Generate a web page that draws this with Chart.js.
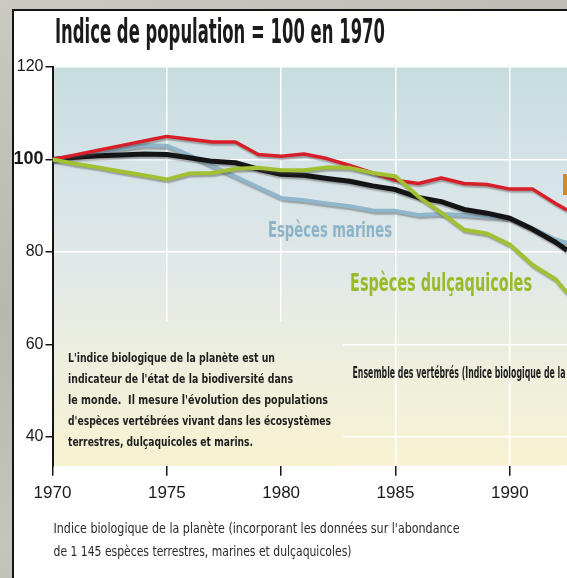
<!DOCTYPE html>
<html>
<head>
<meta charset="utf-8">
<script src="https://cdn.jsdelivr.net/npm/chart.js@4.4.1/dist/chart.umd.min.js"></script>
<style>
  html, body { margin: 0; padding: 0; }
  body {
    width: 567px; height: 578px; overflow: hidden; position: relative;
    background: linear-gradient(160deg, #cbcac2 0%, #b9b8af 40%, #c6c5bc 70%, #aeada4 100%);
  }
  #panel {
    position: absolute; left: 12px; top: 9px; width: 600px; height: 600px;
    background: #fff; border-left: 2.5px solid #151515; border-top: 2px solid #151515;
  }
  #chart-area { position: absolute; left: 0; top: 0; }
</style>
</head>
<body>
<div id="panel"></div>
<canvas id="chart-area" width="567" height="578"></canvas>
<script>
var years = [1970, 1971, 1972, 1973, 1974, 1975, 1976, 1977, 1978, 1979, 1980, 1981,
             1982, 1983, 1984, 1985, 1986, 1987, 1988, 1989, 1990, 1991, 1992, 1992.5];
// Espèces terrestres (rouge)
var terrestres = [100, 101, 102, 103, 104, 105, 104.4, 103.8, 103.8, 101.1, 100.7, 101.2,
                  100.2, 98.7, 97.1, 95.5, 94.8, 96, 94.8, 94.6, 93.6, 93.6, 90.5, 89.1];
// Ensemble des vertébrés (noir)
var ensemble = [100, 100.5, 100.8, 101, 101.2, 101.1, 100.4, 99.6, 99.3, 97.9, 96.8, 96.6,
                95.9, 95.3, 94.3, 93.5, 91.8, 90.9, 89.2, 88.4, 87.3, 84.9, 82.1, 80.4];
// Espèces marines (bleu)
var marines = [100, 100.8, 101.6, 102.4, 103.1, 103, 100.9, 98.6, 96.3, 94, 91.7, 91.2,
               90.5, 89.9, 89, 88.9, 88, 88.2, 88, 87.6, 87.3, 85.1, 82.7, 82];
// Espèces dulçaquicoles (vert)
var dulcaquicoles = [100, 99.1, 98.3, 97.4, 96.6, 95.7, 97, 97.1, 98, 98.2, 97.7, 97.7,
                     98.3, 98.2, 97.1, 96.4, 92, 88.5, 84.8, 84, 81.6, 77.2, 74.1, 71.2];
var xTicks = [1970, 1975, 1980, 1985, 1990];
var yTicks = [40, 60, 80, 100, 120];

var COND = "'Liberation Sans Narrow', 'DejaVu Sans Condensed', 'Liberation Sans', sans-serif";
var SANS = "'Liberation Sans', Arial, sans-serif";

function points(vals) {
    return vals.map(function (v, i) { return { x: years[i], y: v }; });
}

// draw text squeezed/stretched to a given width (the original uses a condensed face)
function fitText(ctx, text, x, y, width, font, color, measureUpTo) {
    ctx.save();
    ctx.font = font;
    ctx.fillStyle = color;
    ctx.textAlign = 'left';
    ctx.textBaseline = 'alphabetic';
    var w = ctx.measureText(measureUpTo || text).width;
    ctx.translate(x, y);
    ctx.scale(width / w, 1);
    ctx.fillText(text, 0, 0);
    ctx.restore();
}

var decor = {
    id: 'decor',
    beforeDraw: function (chart) {
        var ctx = chart.ctx, a = chart.chartArea;
        var g = ctx.createLinearGradient(0, a.top, 0, a.bottom);
        g.addColorStop(0, '#c6dddd');
        g.addColorStop(0.25, '#d5e3e7');
        g.addColorStop(0.5, '#e1e8e8');
        g.addColorStop(0.75, '#eeefdd');
        g.addColorStop(1, '#f7f2d2');
        chart.$bg = g;
        ctx.save();
        ctx.fillStyle = g;
        ctx.fillRect(a.left, a.top, a.right - a.left, a.bottom - a.top);
        ctx.restore();
    },
    beforeDatasetsDraw: function (chart) {
        var ctx = chart.ctx, a = chart.chartArea;
        // explanation box hides the grid
        ctx.save();
        ctx.fillStyle = chart.$bg;
        ctx.fillRect(a.left + 1.5, 322, 343 - a.left - 1.5, a.bottom - 322);
        ctx.restore();
        var f = 'bold 13px ' + COND, c = '#1e1e1e';
        fitText(ctx, "L'indice biologique de la planète est un", 68, 362, 207, f, c);
        fitText(ctx, "indicateur de l'état de la biodiversité dans", 68, 383, 225, f, c);
        fitText(ctx, "le monde.  Il mesure l'évolution des populations", 68, 404, 260, f, c);
        fitText(ctx, "d'espèces vertébrées vivant dans les écosystèmes", 68, 425, 263, f, c);
        fitText(ctx, "terrestres, dulçaquicoles et marins.", 68, 446, 185, f, c);
        fitText(ctx, 'Ensemble des vertébrés (Indice biologique de la planète)', 352.5, 378, 213,
                'bold 15px ' + COND, '#1e1e1e', 'Ensemble des vertébrés (Indice biologique de la');
    },
    afterDatasetsDraw: function (chart) {
        var ctx = chart.ctx;
        fitText(ctx, 'Espèces marines', 268, 237, 124, 'bold 21px ' + COND, '#8db3c8');
        fitText(ctx, 'Espèces dulçaquicoles', 350, 291, 182, 'bold 25px ' + COND, '#9aba2c');
        ctx.save();
        ctx.fillStyle = '#d4862a';
        ctx.fillRect(563, 174, 40, 21);
        ctx.restore();
        fitText(ctx, 'Espèces terrestres', 566, 191, 110, 'bold 17px ' + COND, '#f6dfb2');
    },
    afterDraw: function (chart) {
        var ctx = chart.ctx;
        fitText(ctx, 'Indice de population = 100 en 1970', 55, 43, 330, 'bold 33px ' + COND, '#1b1b1b');
        fitText(ctx, "Indice biologique de la planète (incorporant les données sur l'abondance",
                53.5, 533, 406, '14px ' + COND, '#2a2a2a');
        fitText(ctx, 'de 1 145 espèces terrestres, marines et dulçaquicoles)',
                53.5, 556, 298, '14px ' + COND, '#2a2a2a');
    }
};

var shadow = {
    id: 'shadow',
    beforeDatasetDraw: function (chart) {
        var ctx = chart.ctx;
        ctx.save();
        ctx.shadowColor = 'rgba(70,70,70,0.45)';
        ctx.shadowOffsetX = 1;
        ctx.shadowOffsetY = 2;
        ctx.shadowBlur = 1.5;
    },
    afterDatasetDraw: function (chart) {
        chart.ctx.restore();
    }
};

function line(label, vals, color, width) {
    return {
        label: label,
        data: points(vals),
        borderColor: color,
        borderWidth: width,
        pointRadius: 0,
        tension: 0,
        fill: false,
        borderJoinStyle: 'round'
    };
}

var config = {
    type: 'line',
    data: {
        datasets: [
            line('Espèces dulçaquicoles', dulcaquicoles, '#a2c132', 4),
            line('Espèces terrestres', terrestres, '#d81f29', 3.5),
            line('Ensemble des vertébrés', ensemble, '#141414', 5),
            line('Espèces marines', marines, '#8fb6cb', 4)
        ]
    },
    options: {
        responsive: false,
        animation: false,
        layout: { padding: { top: 67, left: 0, right: 0, bottom: 0 } },
        plugins: { legend: { display: false }, tooltip: { enabled: false } },
        scales: {
            x: {
                type: 'linear',
                min: 1970,
                max: 1992.5,
                afterBuildTicks: function (s) { s.ticks = xTicks.map(function (v) { return { value: v }; }); },
                afterFit: function (s) { s.height = 112.3; },
                border: { display: false },
                grid: {
                    color: function (c) { return c.tick && c.tick.value === 1970 ? 'rgba(0,0,0,0)' : '#ffffff'; },
                    lineWidth: 1.5,
                    tickColor: '#151515',
                    tickLength: 10,
                    tickWidth: 1.5
                },
                ticks: {
                    color: '#1a1a1a',
                    font: { family: SANS, size: 17 },
                    padding: 7,
                    maxRotation: 0,
                    callback: function (v) { return String(v); }
                }
            },
            y: {
                min: 33.8,
                max: 120,
                afterBuildTicks: function (s) { s.ticks = yTicks.map(function (v) { return { value: v }; }); },
                afterFit: function (s) { s.width = 52.5; },
                border: { display: true, color: '#151515', width: 2 },
                grid: {
                    color: '#ffffff',
                    lineWidth: 1.5,
                    tickColor: '#151515',
                    tickLength: 7,
                    tickWidth: 1.5
                },
                ticks: {
                    color: '#1a1a1a',
                    padding: 2,
                    font: function (c) {
                        return c.tick && c.tick.value === 100
                            ? { family: SANS, size: 18, weight: 'bold' }
                            : { family: SANS, size: 16 };
                    },
                    callback: function (v) { return String(v); }
                }
            }
        }
    },
    plugins: [decor, shadow]
};

window.onload = function () {
    var ctx = document.getElementById('chart-area').getContext('2d');
    window.myLine = new Chart(ctx, config);
};
</script>
</body>
</html>
